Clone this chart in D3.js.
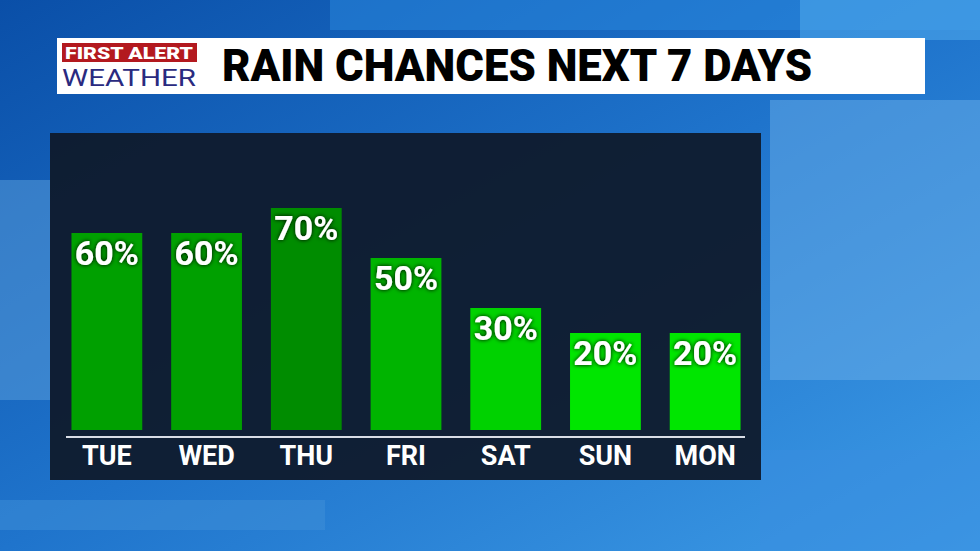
<!DOCTYPE html><html><head><meta charset="utf-8"><script src="https://cdn.jsdelivr.net/npm/d3@7"></script>
<style>body{margin:0;overflow:hidden}</style></head><body><svg id="c" width="980" height="551"></svg>
<script>
const days=["TUE","WED","THU","FRI","SAT","SUN","MON"];
const chances=[60,60,70,50,30,20,20];
const labels=chances.map(v=>v+"%");
const colors=["#00a000","#00a000","#008c00","#00b400","#00d200","#00e600","#00e600"];
const svg=d3.select("#c");
const defs=svg.append("defs");
const g=defs.append("linearGradient").attr("id","bg").attr("x1",0).attr("y1",0).attr("x2",1).attr("y2",1);
g.append("stop").attr("offset",0).attr("stop-color","#0a4fa8");
g.append("stop").attr("offset",0.5).attr("stop-color","#1f74cc");
g.append("stop").attr("offset",1).attr("stop-color","#3d9be6");
svg.append("rect").attr("width",980).attr("height",551).attr("fill","url(#bg)");
[[330,0,650,30,"#2a8ae0"],[770,100,210,280,"#6aaee8"],[0,180,50,220,"#5b9fdc"],[0,500,325,30,"#3f8fd8"],[760,450,220,100,"#3a8ee0"],[800,0,180,40,"#56b0f0"]].forEach(r=>
 svg.append("rect").attr("x",r[0]).attr("y",r[1]).attr("width",r[2]).attr("height",r[3]).attr("fill",r[4]).attr("opacity",0.5));
const f=defs.append("filter").attr("id","sh").attr("x",-0.2).attr("y",-0.2).attr("width",1.4).attr("height",1.4);
f.append("feDropShadow").attr("dx",0).attr("dy",0).attr("stdDeviation",2).attr("flood-color","#000").attr("flood-opacity",1);
svg.append("rect").attr("x",57).attr("y",38).attr("width",868).attr("height",56).attr("fill","#fff");
svg.append("rect").attr("x",62).attr("y",43).attr("width",135).attr("height",19).attr("fill","#b3191f");
svg.append("text").attr("x",129).attr("y",59).attr("text-anchor","middle").attr("font-family","Roboto").attr("font-weight",900).attr("font-size",17).attr("fill","#fff").attr("textLength",128).attr("lengthAdjust","spacingAndGlyphs").text("FIRST ALERT");
svg.append("text").attr("x",129).attr("y",86).attr("text-anchor","middle").attr("font-family","Roboto").attr("font-size",23).attr("fill","#2a2a80").attr("textLength",134).attr("lengthAdjust","spacingAndGlyphs").text("WEATHER");
svg.append("text").attr("x",222).attr("y",81).attr("font-family","Roboto").attr("font-weight",900).attr("font-size",44).attr("fill","#000").attr("textLength",590).attr("lengthAdjust","spacingAndGlyphs").text("RAIN CHANCES NEXT 7 DAYS");
svg.append("rect").attr("x",50).attr("y",133).attr("width",711).attr("height",347).attr("fill","#0f1a2c").attr("opacity",0.95);
const x=d3.scaleBand().domain(days).range([71-14.5,741+14.5]).paddingInner(0.29).paddingOuter(0.15);
const y=d3.scaleLinear().domain([-18.8,70]).range([430,208]);
days.forEach((d,i)=>{
 svg.append("rect").attr("x",x(d)).attr("y",y(chances[i])).attr("width",x.bandwidth()).attr("height",y(-18.8)-y(chances[i])).attr("fill",colors[i]);
 svg.append("text").attr("x",x(d)+x.bandwidth()/2).attr("y",y(chances[i])+32).attr("text-anchor","middle").attr("font-family","Roboto").attr("font-weight",700).attr("font-size",34).attr("fill","#fff").attr("filter","url(#sh)").text(labels[i]);
});
svg.append("line").attr("x1",66).attr("x2",745).attr("y1",437).attr("y2",437).attr("stroke","#d8dde6").attr("stroke-width",2);
const ax=svg.append("g").attr("transform","translate(0,437)").call(d3.axisBottom(x).tickSize(0).tickPadding(8));
ax.select(".domain").remove();
ax.selectAll("text").attr("font-family","Roboto").attr("font-weight",700).attr("font-size",27).attr("fill","#fff").attr("dy","0.75em");
</script></body></html>
